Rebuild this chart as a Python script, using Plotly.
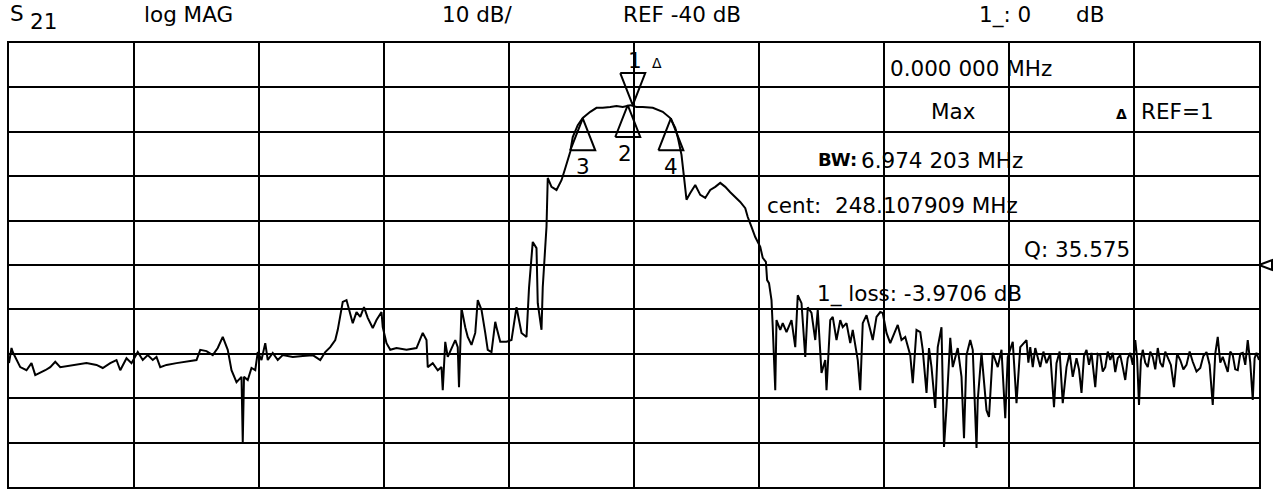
import plotly.graph_objects as go

# ---- data ----
freq_mhz = [
    200.0, 200.2, 200.3, 200.9, 201.4, 201.8, 202.1, 202.5, 202.9, 203.3, 203.7, 204.1, 204.6, 205.4,
    206.2, 207.0, 207.5, 208.1, 208.6, 208.9, 209.4, 209.8, 210.1, 210.3, 210.7, 211.1, 211.5, 211.8,
    212.1, 212.6, 213.4, 214.2, 215.0, 215.3, 215.8, 216.3, 216.7, 217.1, 217.5, 217.8, 218.2, 218.6,
    218.7, 218.8, 219.1, 219.4, 219.7, 219.9, 220.2, 220.5, 220.7, 221.1, 221.5, 221.9, 222.7, 223.5,
    224.3, 224.9, 225.3, 225.7,
    226.1, 226.3, 226.7, 227.0, 227.3, 227.5, 227.8, 228.1, 228.4, 228.7, 229.1, 229.4, 229.8, 229.9,
    230.2, 230.5, 231.0, 231.8, 232.6, 233.1, 233.4, 233.5, 233.9, 234.3, 234.6, 234.7, 234.9, 235.1,
    235.7, 235.9, 236.0, 236.2, 236.5, 236.7, 237.0, 237.3, 237.5, 237.8, 238.1, 238.3, 238.6, 238.9,
    239.0, 239.3, 239.8, 240.2, 240.6, 241.0, 241.4, 241.6, 241.9, 242.2, 242.3, 242.6, 242.7, 243.0,
    243.1, 243.4, 243.8, 244.2, 244.5, 244.7,
    244.9, 245.1, 245.5, 245.9, 246.5, 247.0, 247.5, 248.1, 248.6, 249.1, 249.7, 250.2, 250.7, 251.5,
    252.3, 252.9, 253.3, 253.5, 253.8, 254.0, 254.2, 254.5, 254.9, 255.3, 255.7, 256.1, 256.5, 256.9,
    257.3, 257.7, 258.1, 258.5, 258.9, 259.1, 259.4, 259.7, 260.1, 260.3, 260.55, 260.65, 260.8, 261.0,
    261.1, 261.3, 261.4, 261.7, 261.9, 262.2, 262.6, 262.9, 263.1, 263.4, 263.7, 263.9, 264.2, 264.5,
    264.7, 265.0, 265.3, 265.4, 265.7, 265.9, 266.2, 266.5, 266.7, 267.0, 267.3, 267.5, 267.9, 268.1,
    268.3, 268.6, 268.9, 269.1, 269.4, 269.7, 269.9, 270.2, 270.5, 270.7, 271.1, 271.4,
    271.7, 272.1, 272.3, 272.6, 272.9, 273.1, 273.4, 273.6, 273.8, 274.1, 274.3, 274.6, 274.8, 275.0,
    275.3, 275.5, 275.9, 276.2, 276.4, 276.6, 276.9, 277.1, 277.4, 277.5, 277.8, 278.2, 278.4, 278.7,
    279.1, 279.4, 279.7, 279.9, 280.3, 280.6, 280.9,
    281.4, 281.55, 281.7, 281.9, 282.1, 282.3, 282.5, 282.75, 283.0, 283.3, 283.6, 283.8, 284.05, 284.3,
    284.6, 284.85, 285.1, 285.4, 285.6, 285.8, 286.0, 286.2, 286.4, 286.6, 286.9, 287.1, 287.3, 287.5,
    287.7, 287.9, 288.1, 288.3, 288.5, 288.7, 288.9, 289.1, 289.3, 289.5, 289.7, 289.9, 290.1, 290.25,
    290.4, 290.55, 290.7, 290.9, 291.1, 291.3, 291.5, 291.7, 291.9, 292.1, 292.3, 292.5, 292.7, 292.95,
    293.2, 293.45, 293.7, 293.95, 294.2, 294.45, 294.7, 295.0, 295.3, 295.55, 295.8, 296.05, 296.3, 296.5,
    296.7, 296.9, 297.1, 297.3, 297.5, 297.7, 297.9, 298.1, 298.3, 298.5, 298.7, 298.9, 299.1, 299.3,
    299.5, 299.65, 299.8, 300.0,
]
s21_db = [
    -62.1, -58.7, -59.6, -63.0, -63.7, -62.1, -64.8, -64.3, -63.7, -63.0, -61.8, -63.0, -62.8, -62.5,
    -62.1, -62.5, -63.2, -62.1, -61.4, -63.7, -61.0, -62.1, -60.7, -59.6, -61.4, -60.3, -61.4, -60.7,
    -63.0, -62.5, -62.1, -61.8, -61.4, -59.1, -59.4, -60.3, -58.7, -56.2, -59.1, -63.7, -66.4, -65.2,
    -79.9, -65.2, -65.9, -63.2, -63.7, -59.6, -61.4, -57.6, -61.4, -59.8, -61.4, -60.3, -60.7, -60.5,
    -60.3, -61.4, -59.6, -58.5,
    -56.9, -54.6, -48.3, -47.9, -50.8, -53.1, -50.6, -51.7, -49.5, -51.9, -54.2, -52.4, -50.6, -54.0,
    -57.6, -59.1, -58.7, -59.1, -58.7, -55.3, -56.9, -63.0, -62.1, -63.7, -63.0, -68.2, -57.3, -60.7,
    -56.9, -58.5, -67.5, -49.7, -54.0, -56.2, -58.0, -55.3, -47.9, -50.1, -55.3, -59.1, -59.6, -52.8,
    -54.0, -57.3, -57.3, -56.9, -49.5, -55.3, -56.2, -45.2, -34.8, -36.2, -48.6, -54.6, -45.0, -31.4,
    -20.4, -22.4, -23.1, -20.9, -18.2, -16.4,
    -14.5, -11.2, -8.5, -6.9, -5.5, -4.6, -4.6, -4.4, -4.2, -4.4, -4.0, -4.4, -4.4, -4.6,
    -5.5, -6.9, -9.1, -11.2, -15.2, -20.2, -25.3, -23.8, -22.0, -24.2, -24.9, -23.1, -22.4, -21.5,
    -22.4, -23.6, -24.7, -25.8, -27.2, -29.2, -31.4, -33.7, -35.9, -38.4, -39.3, -43.4, -44.1, -47.9,
    -54.0, -68.2, -52.4, -54.6, -53.1, -55.1, -52.4, -58.5, -46.8, -48.6, -60.7, -49.5, -50.8, -56.9,
    -50.1, -64.3, -61.4, -68.2, -52.4, -51.7, -56.9, -52.4, -54.0, -53.1, -57.6, -54.6, -61.4, -68.2,
    -53.1, -51.3, -54.6, -56.9, -51.7, -50.6, -50.8, -55.3, -57.6, -56.2, -53.5, -56.9,
    -56.2, -60.3, -66.6, -54.6, -55.1, -59.1, -68.8, -58.7, -63.0, -72.2, -58.5, -54.0, -81.0, -72.0,
    -56.4, -63.0, -58.7, -65.2, -79.0, -60.3, -56.9, -59.1, -81.2, -70.4, -59.8, -72.7, -74.2, -59.8,
    -63.0, -59.1, -74.5, -60.7, -57.3, -71.1, -58.5,
    -56.9, -62.0, -58.5, -63.0, -58.7, -61.0, -63.0, -59.5, -62.1, -60.0, -72.0, -62.1, -59.5, -71.1,
    -63.0, -59.8, -65.2, -61.0, -63.5, -68.8, -60.5, -59.1, -62.5, -59.8, -67.5, -60.0, -60.3, -64.0,
    -63.0, -59.5, -61.4, -59.8, -64.1, -61.0, -60.3, -63.0, -65.9, -61.0, -59.8, -62.5, -56.9, -61.0,
    -71.5, -61.5, -59.1, -62.0, -63.0, -59.5, -60.7, -63.5, -58.7, -62.0, -63.0, -59.5, -60.7, -62.5,
    -67.5, -60.0, -61.4, -63.5, -62.5, -59.5, -61.8, -64.0, -63.2, -60.5, -59.6, -62.5, -71.5, -60.0,
    -56.2, -62.0, -60.7, -62.5, -64.1, -59.5, -60.3, -63.5, -63.7, -60.0, -59.8, -62.5, -56.9, -62.0,
    -70.4, -61.0, -59.8, -61.4,
]

# markers: frequency, level, orientation, label
marker_freq = [249.9, 249.5, 245.9, 252.95]
marker_db = [-3.97, -3.97, -6.97, -6.97]
marker_dir = ["down", "up", "up", "up"]
marker_lbl = ["1", "2", "3", "4"]

ref_level_db = -40
x_range = [200, 300]
y_range = [-90, 10]
div_x = 10
div_y = 10

header_texts = ["log MAG", "10 dB/", "REF -40 dB", "1_: 0", "dB"]
header_centers_px = [188, 477, 682, 1005, 1090]

FONT = "DejaVu Sans, Verdana, sans-serif"
FS = 21.5

fig = go.Figure()
fig.add_trace(go.Scatter(x=freq_mhz, y=s21_db, mode="lines",
                         line=dict(color="black", width=2), hoverinfo="skip"))

# marker triangles (built from the marker values)
tri_hw = 1.0   # MHz half width
tri_h = 7.2    # dB height
for f, d, dr in zip(marker_freq, marker_db, marker_dir):
    b = d - tri_h if dr == "up" else d + tri_h
    fig.add_trace(go.Scatter(x=[f - tri_hw, f, f + tri_hw, f - tri_hw], y=[b, d, b, b],
                             mode="lines", line=dict(color="black", width=2), hoverinfo="skip"))

# plot area in page pixels (body margin removed by post_script)
L, R, T, B = 9, 1259, 43, 487
W, H = 1276, 491
def px(x):
    return (x - L) / (R - L)
def py(y):
    return (B - y) / (B - T)

ann = []
def txt(x, y, s, size=FS, anchor="left", bold=False):
    ann.append(dict(x=px(x), y=py(y), xref="paper", yref="paper", text=("<b>%s</b>" % s) if bold else s,
                    showarrow=False, xanchor=anchor, yanchor="middle",
                    font=dict(family=FONT, size=size, color="black")))

txt(8, 14, "S", anchor="left")
txt(28, 22, "21", anchor="left")
for t, c in zip(header_texts, header_centers_px):
    txt(c, 15, t, anchor="center")

txt(888, 68, "0.000 000 MHz")
txt(953, 112, "Max", anchor="center")
txt(1129, 114, "Δ", size=14, anchor="right", bold=True)
txt(1139, 112, "REF=1")
txt(816, 159, "BW:", size=18, bold=True)
txt(859, 160, "6.974 203 MHz")
txt(765, 205, "cent: \u00a0248.107909 MHz")
txt(1022, 249, "Q: 35.575")
txt(815, 294, "1_ loss: -3.9706 dB")

for f, d, dr, lb in zip(marker_freq, marker_db, marker_dir, marker_lbl):
    ys = 45 if dr == "down" else -48
    xs = 2 if lb == "1" else (-3 if lb == "2" else 0)
    ann.append(dict(x=f, y=d, xref="x", yref="y", text=lb, showarrow=False,
                    xanchor="center", yanchor="middle", yshift=ys, xshift=xs,
                    font=dict(family=FONT, size=FS, color="black")))
    if lb == "1":
        ann.append(dict(x=f, y=d, xref="x", yref="y", text="Δ", showarrow=False,
                        xanchor="center", yanchor="middle", xshift=24, yshift=42,
                        font=dict(family=FONT, size=14, color="black")))

shapes = [dict(type="path", xref="paper", yref="y",
               path="M 1,%g L %g,%g L %g,%g Z" % (ref_level_db, 1 + 13 / (R - L), ref_level_db + 1.1,
                                                  1 + 13 / (R - L), ref_level_db - 1.1),
               line=dict(color="black", width=2), fillcolor="white")]

ax = dict(showgrid=True, gridcolor="black", gridwidth=2, showline=True, linecolor="black",
          linewidth=2, mirror=True, zeroline=False, showticklabels=False, ticks="")
fig.update_layout(
    width=W, height=H,
    margin=dict(l=L, r=W - R, t=T, b=H - B, pad=0),
    paper_bgcolor="white", plot_bgcolor="white", showlegend=False,
    hovermode=False,
    xaxis=dict(range=x_range, dtick=div_x, tick0=x_range[0], fixedrange=True, **ax),
    yaxis=dict(range=y_range, dtick=div_y, tick0=y_range[0], fixedrange=True, **ax),
    annotations=ann, shapes=shapes,
)
fig.write_html("out.html", config={"displayModeBar": False, "staticPlot": True},
               post_script="document.body.style.margin='0';document.body.style.overflow='hidden';")
